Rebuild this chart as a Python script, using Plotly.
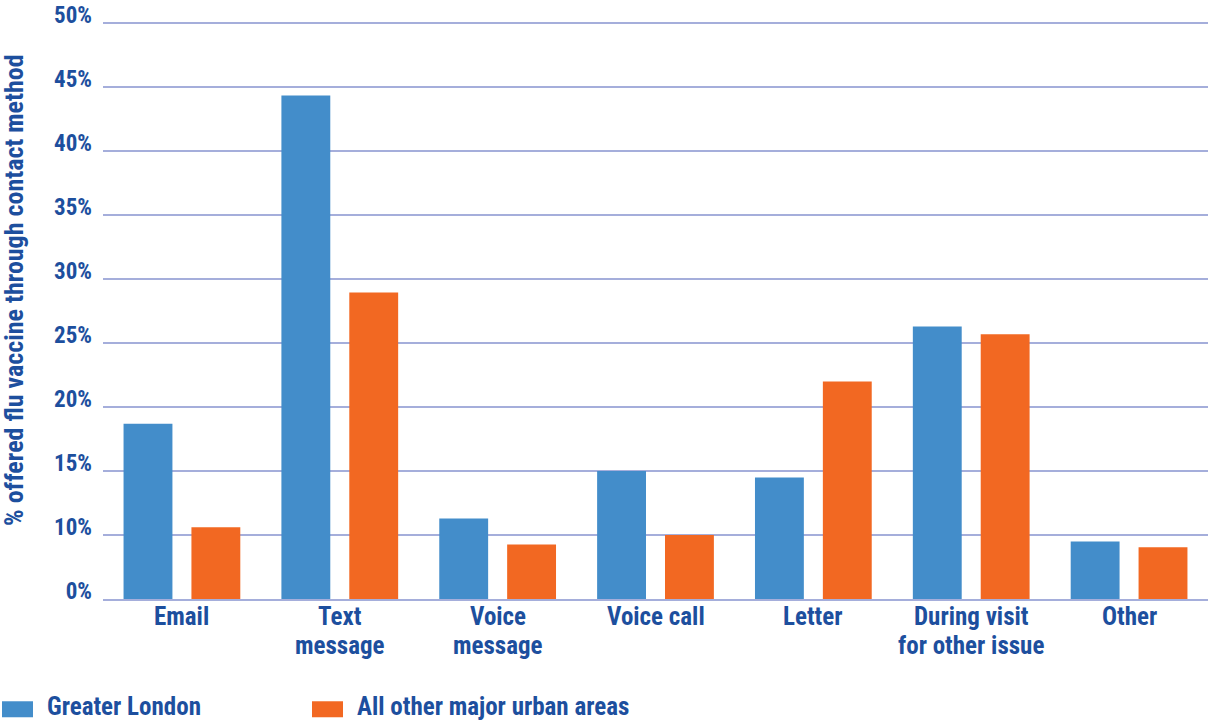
import plotly.graph_objects as go

# Contact method categories (two-line labels use <br>)
categories = ["Email", "Text<br>message", "Voice<br>message", "Voice call",
              "Letter", "During visit<br>for other issue", "Other"]
greater_london = [18.7, 44.35, 11.3, 15.0, 14.5, 26.3, 9.5]
other_urban = [10.6, 28.95, 9.25, 10.0, 22.0, 25.7, 9.05]

series_names = ["Greater London", "All other major urban areas"]
tick_values = [5, 10, 15, 20, 25, 30, 35, 40, 45, 50]
tick_labels = ["0%", "10%", "15%", "20%", "25%", "30%", "35%", "40%", "45%", "50%"]

BLUE = "#438DCA"
ORANGE = "#F26822"
TEXT = "#1D4F9E"
GRID = "#A5AEDB"
FONT = "Roboto Condensed, DejaVu Sans Condensed, sans-serif"

W, H = 1208, 722
L, R = 103, 0
Y_MIN, Y_MAX = 5, 50.25
PX_PER_UNIT = 12.8
BOTTOM_PX = 598.7                      # pixel row of the axis baseline
T = BOTTOM_PX - (Y_MAX - Y_MIN) * PX_PER_UNIT
B = H - BOTTOM_PX
PW, PH = W - L - R, H - T - B


def px_x(x):
    return (x - L) / PW


def px_y(y):
    return (H - B - y) / PH


fig = go.Figure()
fig.add_trace(go.Bar(x=categories, y=greater_london, name=series_names[0],
                     marker=dict(color=BLUE, line=dict(width=0))))
fig.add_trace(go.Bar(x=categories, y=other_urban, name=series_names[1],
                     marker=dict(color=ORANGE, line=dict(width=0))))

# Category labels, one annotation per line for tighter line spacing
LINE_STEP = 29.5
for cat in categories:
    for i, line in enumerate(cat.split("<br>")):
        fig.add_annotation(xref="x", yref="paper", x=cat, y=px_y(616 + i * LINE_STEP),
                           xanchor="center", yanchor="middle", showarrow=False,
                           text=line, borderpad=0,
                           font=dict(family=FONT, size=25, color=TEXT, weight="bold"))

# Legend drawn as swatches plus labels below the axis
legend_items = [(2, 45, BLUE, series_names[0]), (312, 355, ORANGE, series_names[1])]
for sx, tx, col, name in legend_items:
    fig.add_shape(type="rect", xref="paper", yref="paper",
                  x0=px_x(sx), x1=px_x(sx + 31), y0=px_y(717), y1=px_y(701),
                  fillcolor=col, line=dict(width=0))
    fig.add_annotation(xref="paper", yref="paper", x=px_x(tx), y=px_y(706.5),
                       xanchor="left", yanchor="middle", showarrow=False,
                       text=name, font=dict(family=FONT, size=25, color=TEXT, weight="bold"))

fig.add_annotation(xref="paper", yref="paper", x=px_x(14), y=px_y(289.5),
                   xanchor="center", yanchor="middle", showarrow=False, textangle=-90,
                   text="% offered flu vaccine through contact method",
                   font=dict(family=FONT, size=26, color=TEXT, weight="bold"))

fig.update_layout(
    width=W, height=H,
    margin=dict(l=L, r=R, t=T, b=B, pad=0),
    paper_bgcolor="white", plot_bgcolor="white",
    barmode="group", bargap=0.14, bargroupgap=0.28,
    showlegend=False,
    font=dict(family=FONT, color=TEXT, weight="bold"),
)
fig.update_xaxes(
    showgrid=False, showline=True, linecolor=GRID, linewidth=2,
    ticks="", showticklabels=False,
)
fig.update_yaxes(
    range=[Y_MIN, Y_MAX], tickvals=tick_values, ticktext=tick_labels,
    showgrid=True, gridcolor=GRID, gridwidth=1.5, zeroline=False, showline=False,
    ticks="", ticklabelstandoff=10, ticklabelshift=-8,
    tickfont=dict(family=FONT, size=23, color=TEXT, weight="bold"),
)

fig.write_html("out.html")
